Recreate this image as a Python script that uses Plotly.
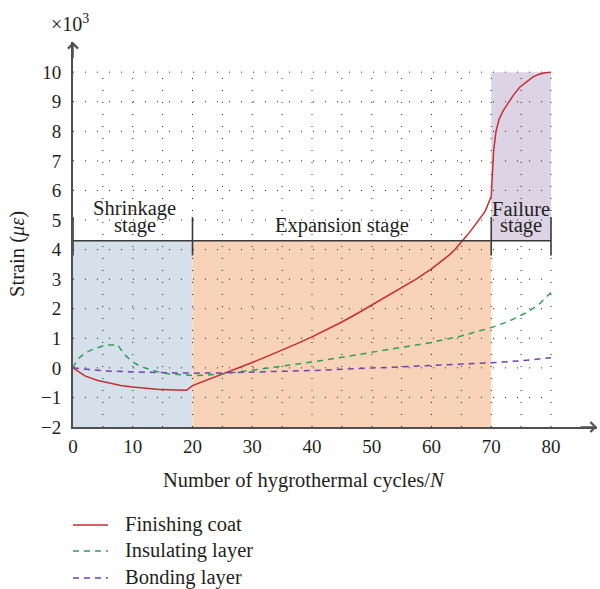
import plotly.graph_objects as go

# Strain of each layer versus number of hygrothermal cycles (values in 10^3 micro-strain)
finish_x = [0, 1, 2, 4, 6, 8, 10, 12, 14, 16, 18, 19, 20, 22.5, 25, 27.5, 30, 32.5, 35, 37.5, 40,
            42.5, 45, 47.5, 50, 52.5, 55, 57.5, 60, 61.5, 63, 64, 65, 66, 67, 68, 69, 70,
            70.1, 70.2, 70.4, 70.8, 71.3, 72, 72.8, 73.8, 74.8, 76, 77, 78, 79, 80]
finish_y = [0, -0.15, -0.27, -0.42, -0.52, -0.6, -0.65, -0.69, -0.72, -0.74, -0.75, -0.76, -0.6,
            -0.41, -0.22, -0.02, 0.18, 0.39, 0.6, 0.82, 1.05, 1.29, 1.55, 1.83, 2.12, 2.41, 2.7,
            3.01, 3.35, 3.57, 3.82, 4.02, 4.25, 4.49, 4.75, 5.01, 5.3, 5.8,
            6.3, 6.8, 7.35, 8.0, 8.4, 8.7, 8.96, 9.25, 9.5, 9.7, 9.84, 9.93, 9.98, 10.0]

insul_x = [0, 0.5, 1, 2, 3, 4, 5, 6, 7, 7.5, 8, 9, 10, 11, 12, 14, 16, 18, 20, 22, 25, 30, 35,
           40, 45, 50, 55, 60, 65, 70, 73, 76, 78, 80]
insul_y = [0, 0.2, 0.33, 0.5, 0.6, 0.68, 0.74, 0.77, 0.79, 0.78, 0.62, 0.38, 0.2, 0.08, 0.0,
           -0.12, -0.2, -0.24, -0.26, -0.25, -0.2, -0.08, 0.05, 0.2, 0.36, 0.52, 0.68, 0.86,
           1.08, 1.36, 1.58, 1.88, 2.15, 2.55]

bond_x = [0, 2, 5, 10, 15, 20, 25, 30, 35, 40, 45, 50, 55, 60, 65, 70, 75, 80]
bond_y = [0, -0.05, -0.1, -0.14, -0.17, -0.18, -0.17, -0.15, -0.12, -0.09, -0.05, -0.01, 0.03,
          0.08, 0.12, 0.17, 0.24, 0.34]

series_names = ["Finishing coat", "Insulating layer", "Bonding layer"]

# Stage boundaries (cycles) and the level of the stage bracket
stage_edges = [0, 20, 70, 80]
bracket_level = 4.3

x_ticks = list(range(0, 81, 10))
y_ticks = list(range(-2, 11))

SERIF = "Liberation Serif"
AXIS_COLOR = "#505050"
TEXT_COLOR = "#231f20"
X_MAX = 87.7
Y_MAX = 11.02

line_styles = [dict(color="#c62d32", width=1.5),
               dict(color="#2ca05a", width=1.5, dash="6px,5px"),
               dict(color="#7442ac", width=1.5, dash="6px,5px")]

fig = go.Figure()
for xs, ys, name, style in zip([finish_x, insul_x, bond_x], [finish_y, insul_y, bond_y],
                               series_names, line_styles):
    fig.add_trace(go.Scatter(x=xs, y=ys, mode="lines", name=name, line=style, showlegend=False))

shapes = []
# Stage shading
shapes.append(dict(type="rect", xref="x", yref="y", x0=stage_edges[0], x1=stage_edges[1],
                   y0=-2, y1=bracket_level, fillcolor="#d6e0ea", line=dict(width=0), layer="below"))
shapes.append(dict(type="rect", xref="x", yref="y", x0=stage_edges[1], x1=stage_edges[2],
                   y0=-2, y1=bracket_level, fillcolor="#f8d3b8", line=dict(width=0), layer="below"))
shapes.append(dict(type="rect", xref="x", yref="y", x0=stage_edges[2], x1=stage_edges[3],
                   y0=bracket_level, y1=10, fillcolor="#dcd4e5", line=dict(width=0), layer="below"))

# Dotted grid
for yv in y_ticks[1:]:
    shapes.append(dict(type="line", xref="x", yref="y", x0=0, x1=80, y0=yv, y1=yv,
                       line=dict(color="#222222", width=1, dash="1px,11px"), layer="below"))
for xv in range(5, 81, 5):
    shapes.append(dict(type="line", xref="x", yref="y", x0=xv, x1=xv, y0=-2, y1=10,
                       line=dict(color="#222222", width=1, dash="1px,11px"), layer="below"))

# Stage bracket
shapes.append(dict(type="line", xref="x", yref="y", x0=0, x1=80, y0=bracket_level, y1=bracket_level,
                   line=dict(color="#3a3a3a", width=1.6)))
for xv in stage_edges:
    shapes.append(dict(type="line", xref="x", yref="y", x0=xv, x1=xv, y0=3.8, y1=5.1,
                       line=dict(color="#3a3a3a", width=1.6)))

ann = []
txt_font = dict(family=SERIF, size=20.5, color=TEXT_COLOR)


def label(x, y, text, xref="x", yref="y", xanchor="center", font=None, **kw):
    ann.append(dict(x=x, y=y, xref=xref, yref=yref, text=text, showarrow=False,
                    xanchor=xanchor, yanchor="middle", font=font or txt_font, **kw))


# Legend below the plot: sample line plus series name
legend_rows = [-0.2545, -0.322, -0.392]
for name, style, ly in zip(series_names, line_styles, legend_rows):
    shapes.append(dict(type="line", xref="paper", yref="paper", x0=0, x1=0.0668, y0=ly, y1=ly,
                       line=style))
    label(0.0954, ly, name, xref="paper", yref="paper", xanchor="left")

fig.update_layout(shapes=shapes)

label(10.3, 5.38, "Shrinkage")
label(10.3, 4.8, "stage")
label(45, 4.83, "Expansion stage")
label(75, 5.36, "Failure")
label(75, 4.8, "stage")

# Axis titles and exponent marker
label(-0.107, 3.85, "Strain (<i>με</i>)", xref="paper", textangle=-90)
label(0.44, -0.138, "Number of hygrothermal cycles/<i>N</i>", xref="paper", yref="paper")
label(-0.046, 1.05, "×10<sup>3</sup>", xref="paper", yref="paper", xanchor="left",
      font=dict(family=SERIF, size=20, color=TEXT_COLOR))

# Axis arrowheads
ann.append(dict(x=X_MAX, y=-2, ax=X_MAX - 3, ay=-2, xref="x", yref="y", axref="x", ayref="y",
                text="", showarrow=True, arrowhead=4, arrowsize=1.3, arrowwidth=1.5,
                arrowcolor=AXIS_COLOR))
ann.append(dict(x=0, y=Y_MAX, ax=0, ay=Y_MAX - 0.6, xref="x", yref="y", axref="x", ayref="y",
                text="", showarrow=True, arrowhead=4, arrowsize=1.3, arrowwidth=1.5,
                arrowcolor=AXIS_COLOR))

fig.update_layout(
    width=600, height=589,
    margin=dict(l=73, r=3, t=42, b=162, autoexpand=False),
    paper_bgcolor="white", plot_bgcolor="white",
    annotations=ann,
    showlegend=False,
    xaxis=dict(range=[0, X_MAX], tickvals=x_ticks, showgrid=False, zeroline=False,
               showline=True, linecolor=AXIS_COLOR, linewidth=2, ticks="",
               ticklabelstandoff=1, tickfont=dict(family=SERIF, size=19, color=TEXT_COLOR)),
    yaxis=dict(range=[-2, Y_MAX], tickvals=y_ticks, showgrid=False, zeroline=False,
               showline=True, linecolor=AXIS_COLOR, linewidth=2, ticks="",
               ticklabelstandoff=6, tickfont=dict(family=SERIF, size=19, color=TEXT_COLOR)),
)

fig.write_html("out.html")
